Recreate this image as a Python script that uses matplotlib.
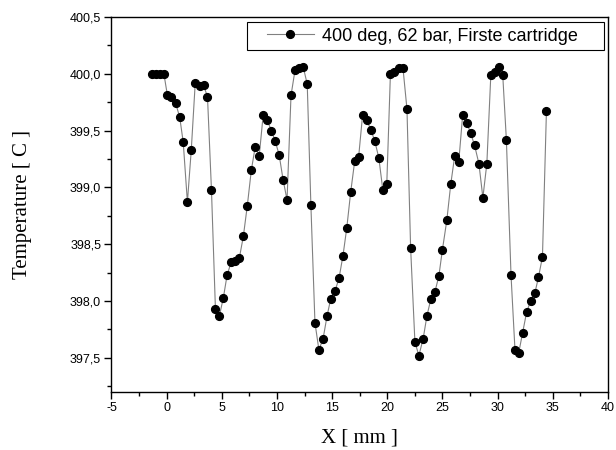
import matplotlib
matplotlib.use("Agg")
import matplotlib.pyplot as plt
from matplotlib.patches import Rectangle
from matplotlib.ticker import MultipleLocator, FuncFormatter

# position along the cartridge [mm]
x_mm = [-1.36, -0.99, -0.62, -0.25, 0.07, 0.43, 0.82, 1.18, 1.50, 1.88,
        2.23, 2.59, 2.98, 3.34, 3.70, 4.06, 4.42, 4.78, 5.14, 5.48,
        5.84, 6.23, 6.59, 6.95, 7.31, 7.67, 8.03, 8.39, 8.75, 9.11,
        9.50, 9.83, 10.19, 10.55, 10.91, 11.27, 11.63, 11.99, 12.38, 12.74,
        13.07, 13.44, 13.80, 14.18, 14.54, 14.87, 15.26, 15.62, 15.98, 16.32,
        16.68, 17.04, 17.40, 17.76, 18.14, 18.50, 18.86, 19.23, 19.59, 19.95,
        20.28, 20.64, 21.06, 21.42, 21.78, 22.11, 22.50, 22.86, 23.25, 23.59,
        23.95, 24.31, 24.67, 24.99, 25.39, 25.75, 26.11, 26.47, 26.83, 27.19,
        27.55, 27.91, 28.30, 28.66, 29.02, 29.38, 29.74, 30.10, 30.46, 30.79,
        31.21, 31.57, 31.90, 32.26, 32.62, 32.98, 33.37, 33.70, 34.06, 34.42]

# measured temperature [C]
temp = [400.00, 400.00, 400.00, 400.00, 399.81, 399.80, 399.74, 399.62, 399.40, 398.87,
        399.33, 399.92, 399.89, 399.90, 399.80, 398.98, 397.93, 397.87, 398.03, 398.23,
        398.34, 398.35, 398.38, 398.57, 398.84, 399.15, 399.36, 399.28, 399.64, 399.59,
        399.50, 399.41, 399.29, 399.07, 398.89, 399.81, 400.03, 400.05, 400.06, 399.91,
        398.85, 397.81, 397.57, 397.67, 397.87, 398.02, 398.09, 398.20, 398.40, 398.64,
        398.96, 399.23, 399.27, 399.64, 399.59, 399.51, 399.41, 399.26, 398.98, 399.03,
        400.00, 400.02, 400.05, 400.05, 399.69, 398.47, 397.64, 397.52, 397.67, 397.87,
        398.02, 398.08, 398.22, 398.45, 398.71, 399.03, 399.28, 399.22, 399.64, 399.57,
        399.48, 399.37, 399.21, 398.91, 399.21, 399.99, 400.02, 400.06, 399.99, 399.42,
        398.23, 397.57, 397.54, 397.72, 397.90, 398.00, 398.07, 398.21, 398.39, 399.67]

series_label = "400 deg, 62 bar, Firste cartridge"

plt.rcParams["font.family"] = "Liberation Sans"

fig = plt.figure(figsize=(6.16, 4.5), dpi=100)
ax = fig.add_axes([0.181, 0.129, 0.806, 0.833])

ax.plot(x_mm, temp, color="#808080", linewidth=0.8, marker="o",
        markersize=5.6, markerfacecolor="black", markeredgecolor="black",
        label=series_label)

ax.set_xlim(-5, 40)
ax.set_ylim(397.2, 400.5)
ax.xaxis.set_major_locator(MultipleLocator(5))
ax.xaxis.set_minor_locator(MultipleLocator(2.5))
ax.yaxis.set_major_locator(MultipleLocator(0.5))
ax.yaxis.set_minor_locator(MultipleLocator(0.25))
ax.xaxis.set_major_formatter(FuncFormatter(lambda v, p: f"{v:g}"))
ax.yaxis.set_major_formatter(FuncFormatter(lambda v, p: f"{v:.1f}".replace(".", ",")))

ax.tick_params(which="major", direction="out", length=5, width=1, labelsize=9, pad=2.5)
ax.tick_params(which="minor", direction="out", length=3, width=1)
for side in ax.spines.values():
    side.set_linewidth(1)
    side.set_color("black")

ax.set_xlabel("X [ mm ]", family="Liberation Serif", fontsize=15, labelpad=10)
ax.set_ylabel("Temperature [ C ]", family="Liberation Serif", fontsize=15, labelpad=27)

# legend box drawn separately so it can be wider than its contents
ax.add_patch(Rectangle((0.273, 0.912), 0.719, 0.0747, transform=ax.transAxes,
                       facecolor="white", edgecolor="black", linewidth=0.8,
                       zorder=4, clip_on=False))
leg = ax.legend(loc="center left", bbox_to_anchor=(0.313, 0.949), borderaxespad=0,
                borderpad=0, frameon=False, fontsize=13, handlelength=2.6,
                handletextpad=0.45)
leg.set_zorder(5)

fig.savefig("out.png", dpi=100)
